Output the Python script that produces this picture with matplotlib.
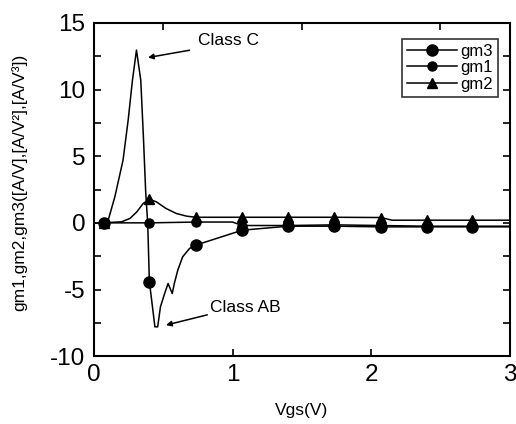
import numpy as np
import matplotlib
matplotlib.use('Agg')
from matplotlib import pyplot as plt
from matplotlib.ticker import MultipleLocator

plt.rcParams['font.family'] = ['Liberation Sans', 'DejaVu Sans']
plt.rcParams['axes.unicode_minus'] = False

# marker positions shared by the three curves
mark_x = [0.07, 0.40, 0.735, 1.07, 1.40, 1.735, 2.07, 2.40, 2.73]

gm3_x = [0.0, 0.07, 0.103, 0.151, 0.21, 0.247, 0.278, 0.307, 0.338, 0.357, 0.374, 0.388,
         0.40, 0.44, 0.46, 0.48, 0.51, 0.535, 0.565, 0.58, 0.605, 0.64, 0.69, 0.735,
         1.07, 1.40, 1.735, 2.07, 2.40, 2.73, 3.0]
gm3_y = [0.0, 0.0, 0.2, 1.95, 4.7, 7.7, 10.7, 12.96, 10.7, 6.45, 2.2, 0.0,
         -4.4, -7.8, -7.8, -6.3, -5.3, -4.55, -5.3, -4.55, -3.55, -2.55, -1.92, -1.67,
         -0.55, -0.25, -0.25, -0.3, -0.3, -0.3, -0.3]

gm1_x = [0.0, 0.07, 0.40, 0.735, 1.0, 1.07, 1.40, 1.735, 2.07, 2.40, 2.73, 3.0]
gm1_y = [0.0, 0.0, 0.0, 0.06, 0.06, -0.2, -0.2, -0.15, -0.2, -0.25, -0.25, -0.25]

gm2_x = [0.0, 0.07, 0.2, 0.26, 0.31, 0.355, 0.40, 0.45, 0.52, 0.595, 0.67, 0.735,
         1.07, 1.40, 1.735, 2.07, 2.15, 2.40, 2.73, 3.0]
gm2_y = [0.0, 0.0, 0.08, 0.33, 0.83, 1.45, 1.77, 1.58, 1.08, 0.7, 0.5, 0.42,
         0.42, 0.42, 0.42, 0.4, 0.2, 0.2, 0.2, 0.2]

series = [
    ('gm3', gm3_x, gm3_y, 'o', 8),
    ('gm1', gm1_x, gm1_y, 'o', 6.5),
    ('gm2', gm2_x, gm2_y, '^', 7.5),
]

fig = plt.figure(figsize=(5.16, 4.24), dpi=100)
ax = fig.add_axes([0.182, 0.160, 0.806, 0.786])

for name, xs, ys, mk, ms in series:
    xs = np.array(xs)
    idx = list(np.where(np.isin(np.round(xs, 3), mark_x))[0])
    ax.plot(xs, ys, color='black', lw=1.1, marker=mk, ms=ms,
            markevery=idx, label=name)

ax.set_xlim(0, 3)
ax.set_ylim(-10, 15)
ax.xaxis.set_major_locator(MultipleLocator(1))
ax.xaxis.set_minor_locator(MultipleLocator(0.5))
ax.yaxis.set_major_locator(MultipleLocator(5))
ax.yaxis.set_minor_locator(MultipleLocator(2.5))
ax.tick_params(which='both', direction='in', length=5, width=1.2,
               labelsize=17.5, right=True)
ax.tick_params(which='major', top=False, pad=6)
ax.tick_params(axis='x', which='minor', top=True, bottom=False)
for sp in ax.spines.values():
    sp.set_linewidth(1.5)

ax.set_xlabel('Vgs(V)', fontsize=12.5, labelpad=12)
ax.set_ylabel('gm1,gm2,gm3([A/V],[A/V²],[A/V³])', fontsize=12.5)
ax.yaxis.set_label_coords(-0.16, 0.52)

# annotations
ax.text(0.75, 13.7, 'Class C', fontsize=12.5, va='center', ha='left')
ax.annotate('', xy=(0.39, 12.4), xytext=(0.69, 12.95),
            arrowprops=dict(arrowstyle='-|>', color='black', lw=1.1,
                            mutation_scale=8, shrinkA=0, shrinkB=0))
ax.text(0.835, -6.33, 'Class AB', fontsize=12.5, va='center', ha='left')
ax.annotate('', xy=(0.52, -7.67), xytext=(0.818, -6.9),
            arrowprops=dict(arrowstyle='-|>', color='black', lw=1.1,
                            mutation_scale=8, shrinkA=0, shrinkB=0))

leg = ax.legend(loc='upper left', bbox_to_anchor=(0.741, 0.953), fontsize=12,
                handlelength=3.0, labelspacing=0.1, borderpad=0.3,
                handletextpad=0.2, borderaxespad=0, fancybox=False)
leg.get_frame().set_edgecolor('black')
leg.get_frame().set_linewidth(1.2)

fig.savefig('out.png', dpi=100)
